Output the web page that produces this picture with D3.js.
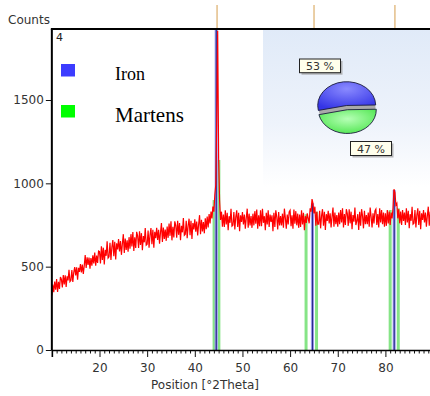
<!DOCTYPE html>
<html><head><meta charset="utf-8">
<script src="https://cdn.jsdelivr.net/npm/d3@7"></script>
<style>html,body{margin:0;padding:0;background:#fff;overflow:hidden}</style>
</head><body>
<script>
// ---- data ----
const twoThetaStart = 10, twoThetaStep = 0.2;
const counts = [
328,392,347,410,362,426,349,409,367,438,
425,376,450,394,448,378,442,418,481,411,
419,479,409,466,498,448,496,422,493,469,
515,466,513,457,506,569,492,556,511,554,
488,552,506,568,520,584,506,566,523,594,
590,519,622,541,614,513,601,565,653,552,
560,643,540,618,660,563,650,543,640,603,
665,592,654,571,638,695,582,669,601,658,
590,677,608,695,621,708,594,676,612,709,
685,612,713,630,701,598,684,646,732,629,
635,717,614,690,732,634,721,613,709,671,
733,660,721,638,705,762,648,735,667,723,
655,741,673,759,685,772,658,739,675,772,
748,674,775,691,762,659,745,706,792,688,
694,775,671,747,788,689,775,666,762,723,
784,710,771,687,753,809,695,781,712,768,
700,790,725,800,735,815,760,830,790,860,
830,930,990,1380,1915,1150,900,780,830,740,
813,738,838,753,823,718,803,763,848,743,
748,828,723,798,838,738,823,713,808,768,
828,753,813,728,793,848,733,818,748,803,
733,818,748,833,758,843,728,808,743,838,
743,848,763,803,718,823,753,838,738,813,
768,808,713,823,738,838,798,723,828,748,
803,748,818,733,848,793,728,813,753,828,
838,743,808,728,843,758,833,748,818,733,
813,738,838,753,823,718,803,763,820,790,
760,850,830,905,880,820,860,745,830,755,
755,835,730,805,845,745,830,720,815,775,
835,760,820,735,800,855,740,825,755,810,
740,825,755,840,765,850,735,815,750,845,
820,745,845,760,830,725,810,770,855,750,
775,815,720,830,745,845,805,730,835,755,
810,755,825,740,855,800,735,820,760,835,
845,750,815,735,850,765,840,755,825,740,
820,745,840,760,830,750,825,790,850,965,
945,870,880,790,845,760,830,750,840,775,
825,750,850,765,835,730,815,775,860,755,
760,840,735,810,850,750,835,725,820,780,
840,765,825,740,805,860,745,830,760,815,
790];
const xTicks = [20,30,40,50,60,70,80];
const yTicks = [0,500,1000,1500];
const topMarkers = [44.67, 65.02, 82.0];
const ironStickPos = [44.5, 64.7, 81.85];
const ironStickHeight = [1925, 880, 960];
const martStickPos = [44.05, 45.05, 63.35, 65.55, 81.0, 82.7];
const martStickHeight = [900, 1140, 815, 830, 840, 850];
const phaseNames = ["Iron", "Martens"];
const phaseShares = [53, 47];
const panelLabel = "4";
const xTitle = "Position [°2Theta]";
const yTitle = "Counts";

// ---- setup ----
const W = 430, H = 396;
const svg = d3.select("body").append("svg").attr("width", W).attr("height", H);
const x = d3.scaleLinear().domain([10, 90]).range([51.85, 433.05]);
const y = d3.scaleLinear().domain([0, 1500]).range([350, 100]);
const topY = y(1926);
const sans = "'DejaVu Sans', Verdana, sans-serif";
const serif = "'Liberation Serif', 'Times New Roman', serif";

const defs = svg.append("defs");
const bg = defs.append("linearGradient").attr("id","bgG").attr("x1",0).attr("y1",0).attr("x2",0).attr("y2",1);
bg.append("stop").attr("offset","0%").attr("stop-color","#e0eaf8");
bg.append("stop").attr("offset","60%").attr("stop-color","#eef3fb");
bg.append("stop").attr("offset","100%").attr("stop-color","#ffffff");
const gB = defs.append("radialGradient").attr("id","pB").attr("cx","50%").attr("cy","25%").attr("r","75%");
gB.append("stop").attr("offset","0%").attr("stop-color","#8a8aff");
gB.append("stop").attr("offset","100%").attr("stop-color","#3434e6");
const gG = defs.append("radialGradient").attr("id","pG").attr("cx","50%").attr("cy","40%").attr("r","75%");
gG.append("stop").attr("offset","0%").attr("stop-color","#b6ffb6");
gG.append("stop").attr("offset","100%").attr("stop-color","#3fe23f");
defs.append("clipPath").attr("id","plotClip").append("rect")
  .attr("x", x(10)).attr("y", topY).attr("width", W - x(10)).attr("height", y(0) - topY);

// background panel
svg.append("rect").attr("x",263).attr("y",topY).attr("width",W-263).attr("height",158).attr("fill","url(#bgG)");

// ---- reference sticks ----
const plot = svg.append("g").attr("clip-path","url(#plotClip)");
martStickPos.forEach((p,i) => {
  plot.append("line").attr("x1",x(p)).attr("x2",x(p)).attr("y1",y(0)).attr("y2",y(martStickHeight[i]))
    .attr("stroke","#86e486").attr("stroke-width",3);
});
ironStickPos.forEach((p,i) => {
  plot.append("line").attr("x1",x(p)).attr("x2",x(p)).attr("y1",y(0)).attr("y2",y(ironStickHeight[i]))
    .attr("stroke","#a4a4f2").attr("stroke-width",3.2);
  plot.append("line").attr("x1",x(p)).attr("x2",x(p)).attr("y1",y(0)).attr("y2",y(ironStickHeight[i]))
    .attr("stroke","#2a2a8a").attr("stroke-width",1.2);
});

// ---- data line ----
const pts = counts.map((c,i) => [twoThetaStart + i*twoThetaStep, c]);
plot.append("path").datum(pts)
  .attr("d", d3.line().x(d => x(d[0])).y(d => y(d[1])))
  .attr("fill","none").attr("stroke","#ff0000").attr("stroke-width",1.2);

// top markers
svg.selectAll(".tm").data(topMarkers).enter().append("line")
  .attr("x1",d=>x(d)).attr("x2",d=>x(d)).attr("y1",5).attr("y2",topY)
  .attr("stroke","#dcae6a").attr("stroke-width",1.2);

// ---- axes ----
const minor = d3.range(11, 90).filter(v => v % 10 !== 0);
const xMinor = svg.append("g").attr("transform",`translate(0,${y(0)})`)
  .call(d3.axisBottom(x).tickValues(minor).tickSize(3.5).tickFormat(""));
xMinor.select(".domain").remove();
xMinor.selectAll("line").attr("stroke","#111");
const xAx = svg.append("g").attr("transform",`translate(0,${y(0)})`)
  .call(d3.axisBottom(x).tickValues(xTicks).tickSize(7).tickPadding(6));
xAx.select(".domain").attr("stroke","#000").attr("stroke-width",1.6);
xAx.selectAll("line").attr("stroke","#111");
xAx.selectAll("text").attr("font-family",sans).attr("font-size",12).attr("fill","#333");

const yAx = svg.append("g").attr("transform",`translate(${x(10)},0)`)
  .call(d3.axisLeft(y).tickValues(yTicks).tickFormat(d3.format("d")).tickSize(6).tickPadding(2));
yAx.select(".domain").remove();
yAx.selectAll("line").attr("stroke","#111");
yAx.selectAll("text").attr("font-family",sans).attr("font-size",12).attr("fill","#333");

// frame
svg.append("line").attr("x1",x(10)).attr("x2",x(10)).attr("y1",topY).attr("y2",y(0)).attr("stroke","#000").attr("stroke-width",2);
svg.append("line").attr("x1",x(10)-1).attr("x2",W).attr("y1",topY).attr("y2",topY).attr("stroke","#000").attr("stroke-width",1.8);

// titles
svg.append("text").attr("x",8).attr("y",23.5).text(yTitle)
  .attr("font-family",sans).attr("font-size",12).attr("fill","#333");
svg.append("text").attr("x",205).attr("y",389).attr("text-anchor","middle").text(xTitle)
  .attr("font-family",sans).attr("font-size",12).attr("fill","#333");
svg.append("text").attr("x",56).attr("y",41).text(panelLabel)
  .attr("font-family",sans).attr("font-size",11).attr("fill","#222");

// ---- legend ----
const legColors = ["#3c3cff", "#00ff00"];
const legY = [64, 105];
const legFont = [18, 21];
const legBase = [80, 121.5];
phaseNames.forEach((n,i) => {
  svg.append("rect").attr("x",61).attr("y",legY[i]).attr("width",14).attr("height",12.5).attr("fill",legColors[i]);
  svg.append("text").attr("x",115).attr("y",legBase[i]).text(n)
    .attr("font-family",serif).attr("font-size",legFont[i]).attr("fill","#000");
});

// ---- pie ----
const rx = 29, ryScale = 0.82;
const pieG = svg.append("g").attr("transform",`translate(347,107.6) scale(1,${ryScale})`);
pieG.append("circle").attr("r",rx-0.5).attr("fill","#a9a9a9");
const pie = d3.pie().sort(null).startAngle(-102*Math.PI/180).endAngle(258*Math.PI/180);
const arc = d3.arc().innerRadius(0).outerRadius(rx);
const arcs = pie(phaseShares);
const fills = ["url(#pB)", "url(#pG)"];
arcs.forEach((a,i) => {
  const mid = (a.startAngle + a.endAngle)/2, d = 2.6;
  pieG.append("path").attr("d", arc(a))
    .attr("transform",`translate(${Math.sin(mid)*d},${-Math.cos(mid)*d})`)
    .attr("fill", fills[i]).attr("stroke","#1c1c3c").attr("stroke-width",0.9)
    .attr("vector-effect","non-scaling-stroke");
});

// pie labels
const labBoxes = [[299.5,59,41,13.7],[350.5,141.5,41,14]];
phaseShares.forEach((s,i) => {
  const [bx,by,bw,bh] = labBoxes[i];
  svg.append("rect").attr("x",bx+2).attr("y",by+2).attr("width",bw).attr("height",bh).attr("fill","#9a9a9a").attr("opacity",0.7);
  svg.append("rect").attr("x",bx).attr("y",by).attr("width",bw).attr("height",bh).attr("fill","#ffffec").attr("stroke","#222").attr("stroke-width",1);
  svg.append("text").attr("x",bx+bw/2).attr("y",by+bh/2+4).attr("text-anchor","middle").text(s + " %")
    .attr("font-family",sans).attr("font-size",11).attr("fill","#333");
});
</script>
</body></html>
